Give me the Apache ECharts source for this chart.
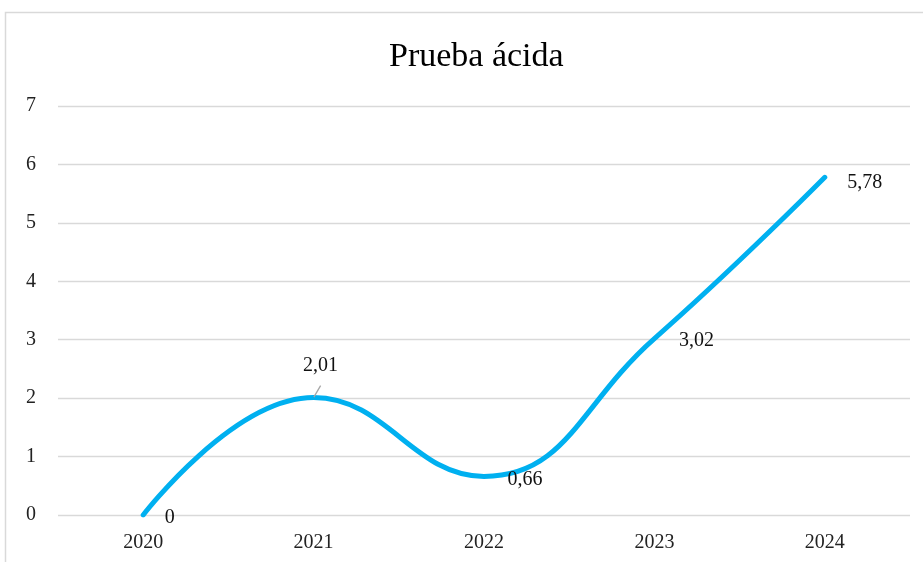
<!DOCTYPE html>
<html>
<head>
<meta charset="utf-8">
<script src="https://cdn.jsdelivr.net/npm/echarts@6/dist/echarts.min.js"></script>
<style>
html, body { margin: 0; padding: 0; background: #fff; }
#chart { width: 923px; height: 562px; }
</style>
</head>
<body>
<div id="chart"></div>
<script>
const years = ["2020", "2021", "2022", "2023", "2024"]
const values = [0, 2.01, 0.66, 3.02, 5.78]
const labels = ["0", "2,01", "0,66", "3,02", "5,78"]
// label offsets from each point, in px
const labelOffsets = [[21, 3], [-11, -32], [23, 3], [24, 2], [22, 5]]

const serif = "'Liberation Serif', 'Times New Roman', serif"
const chart = echarts.init(document.getElementById("chart"))

const seriesData = values.map((v, i) => ({
	value: v,
	label: {
		formatter: labels[i],
		offset: labelOffsets[i]
	},
	labelLine: { show: i === 1 }
}))

chart.setOption({
	backgroundColor: "#fff",
	animation: false,
	title: {
		text: "Prueba ácida",
		left: 384,
		top: 35,
		textStyle: { fontFamily: serif, fontSize: 34, fontWeight: "normal", color: "#000" }
	},
	graphic: [
		{
			type: "rect",
			shape: { x: 5.5, y: 12.5, width: 940, height: 580 },
			style: { fill: "none", stroke: "#d9d9d9", lineWidth: 1.5 },
			silent: true
		}
	],
	grid: { left: 58, right: 13, top: 106, bottom: 47 },
	xAxis: {
		type: "category",
		data: years,
		boundaryGap: true,
		axisLine: { show: false },
		axisTick: { show: false },
		axisLabel: { fontFamily: serif, fontSize: 20, color: "#222", margin: 18 }
	},
	yAxis: {
		type: "value",
		min: 0,
		max: 7,
		interval: 1,
		axisLine: { show: false },
		axisTick: { show: false },
		splitLine: { lineStyle: { color: "#d9d9d9", width: 1.3 } },
		axisLabel: { fontFamily: serif, fontSize: 20, color: "#222", margin: 22 }
	},
	series: [
		{
			type: "line",
			data: seriesData,
			smooth: 0.45,
			symbol: "circle",
			symbolSize: 1,
			itemStyle: { color: "#00b0f0" },
			lineStyle: { color: "#00b0f0", width: 5, cap: "round" },
			label: {
				show: true,
				position: "right",
				distance: 0,
				fontFamily: serif,
				fontSize: 20,
				color: "#111"
			},
			labelLine: {
				show: false,
				length2: 0,
				lineStyle: { color: "#a6a6a6", width: 1.3 }
			}
		}
	]
})
</script>
</body>
</html>
